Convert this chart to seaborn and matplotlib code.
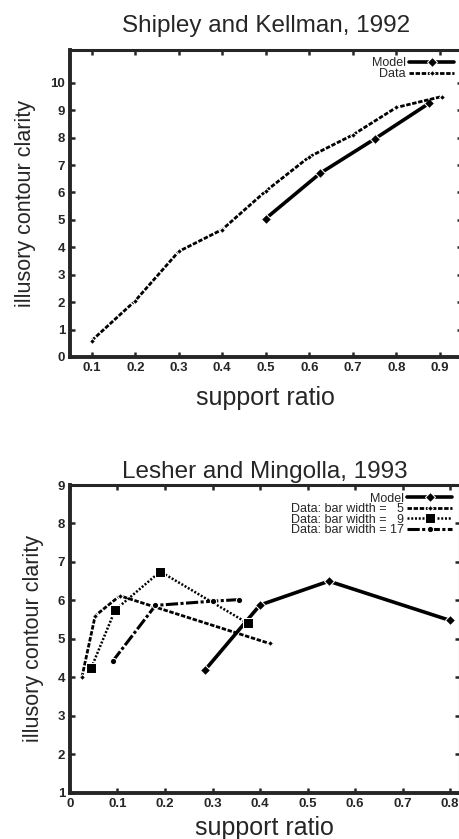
import matplotlib
matplotlib.use("Agg")
import matplotlib.pyplot as plt
import seaborn as sns

# ---- Data: Shipley and Kellman, 1992 ----
sk_data_x = [0.1, 0.2, 0.3, 0.4, 0.5, 0.6, 0.7, 0.8, 0.905]
sk_data_y = [0.6, 2.05, 3.85, 4.65, 6.05, 7.3, 8.1, 9.1, 9.5]
sk_model_x = [0.5, 0.625, 0.75, 0.875]
sk_model_y = [5.05, 6.7, 7.95, 9.25]

# ---- Data: Lesher and Mingolla, 1993 ----
lm_model_x = [0.285, 0.40, 0.545, 0.80]
lm_model_y = [4.2, 5.88, 6.5, 5.48]
lm_bw5_x = [0.025, 0.053, 0.105, 0.42]
lm_bw5_y = [4.0, 5.6, 6.12, 4.88]
lm_bw9_x = [0.045, 0.095, 0.19, 0.375]
lm_bw9_y = [4.25, 5.75, 6.75, 5.4]
lm_bw17_x = [0.09, 0.18, 0.30, 0.355]
lm_bw17_y = [4.42, 5.87, 5.98, 6.02]

sk_xticks = [0.1, 0.2, 0.3, 0.4, 0.5, 0.6, 0.7, 0.8, 0.9]
sk_yticks = list(range(0, 11))
lm_xticks = [0, 0.1, 0.2, 0.3, 0.4, 0.5, 0.6, 0.7, 0.8]
lm_yticks = list(range(1, 10))

sns.set_style("ticks")
plt.rcParams['font.family'] = ['Liberation Sans', 'DejaVu Sans']

fig = plt.figure(figsize=(4.59, 8.39), dpi=100)
ax1 = fig.add_axes([0.1525, 0.5745, 0.853, 0.366])
ax2 = fig.add_axes([0.1525, 0.0552, 0.8486, 0.3667])

# top panel
sns.lineplot(x=sk_model_x, y=sk_model_y, ax=ax1, sort=False, estimator=None,
             color='black', lw=2.6, marker='D', markersize=5, label='Model')
sns.lineplot(x=sk_data_x, y=sk_data_y, ax=ax1, sort=False, estimator=None,
             color='black', lw=2.0, marker='D', markersize=3, label='Data',
             linestyle=(0, (1.6, 0.6)))

# bottom panel
sns.lineplot(x=lm_model_x, y=lm_model_y, ax=ax2, sort=False, estimator=None,
             color='black', lw=2.6, marker='D', markersize=5, label='Model')
sns.lineplot(x=lm_bw5_x, y=lm_bw5_y, ax=ax2, sort=False, estimator=None,
             color='black', lw=2.0, marker='D', markersize=3,
             label='Data: bar width =   5', linestyle=(0, (1.6, 0.6)))
sns.lineplot(x=lm_bw9_x, y=lm_bw9_y, ax=ax2, sort=False, estimator=None,
             color='black', lw=1.8, marker='s', markersize=6.5,
             label='Data: bar width =   9', linestyle=(0, (0.8, 0.7)))
sns.lineplot(x=lm_bw17_x, y=lm_bw17_y, ax=ax2, sort=False, estimator=None,
             color='black', lw=2.2, marker='o', markersize=4.5,
             label='Data: bar width = 17', linestyle=(0, (4, 0.8, 1, 0.8)))

for ax, xt, yt, xl, yl, title, tpad, xpad in [
    (ax1, sk_xticks, sk_yticks, (0.05, 0.95), (0, 11.2), 'Shipley and Kellman, 1992', 13, 9),
    (ax2, lm_xticks, lm_yticks, (0, 0.82), (1, 9), 'Lesher and Mingolla, 1993', 5, 5),
]:
    ax.set_xlim(*xl)
    ax.set_ylim(*yl)
    ax.set_xticks(xt)
    ax.set_yticks(yt)
    ax.set_xticklabels([('%g' % v) for v in xt], fontsize=9.5, fontweight='bold')
    ax.set_yticklabels([('%g' % v) for v in yt], fontsize=9.5, fontweight='bold')
    ax.tick_params(direction='in', length=3.5, width=1.8, top=True, right=True, pad=3.5)
    for s in ['left', 'bottom']:
        ax.spines[s].set_linewidth(2.8)
    for s in ['top', 'right']:
        ax.spines[s].set_visible(True)
        ax.spines[s].set_linewidth(2.2)
    ax.set_xlabel('support ratio', fontsize=18, labelpad=xpad)
    ax.set_ylabel('illusory contour clarity', fontsize=15.5, labelpad=10)
    ax.set_title(title, fontsize=17.5, pad=tpad)
    ax.legend(loc='upper right', frameon=False, markerfirst=False, fontsize=9,
              handlelength=3.6, labelspacing=-0.12, borderaxespad=0.3,
              handletextpad=0.25, borderpad=0.3)

fig.savefig('out.png', dpi=100)
